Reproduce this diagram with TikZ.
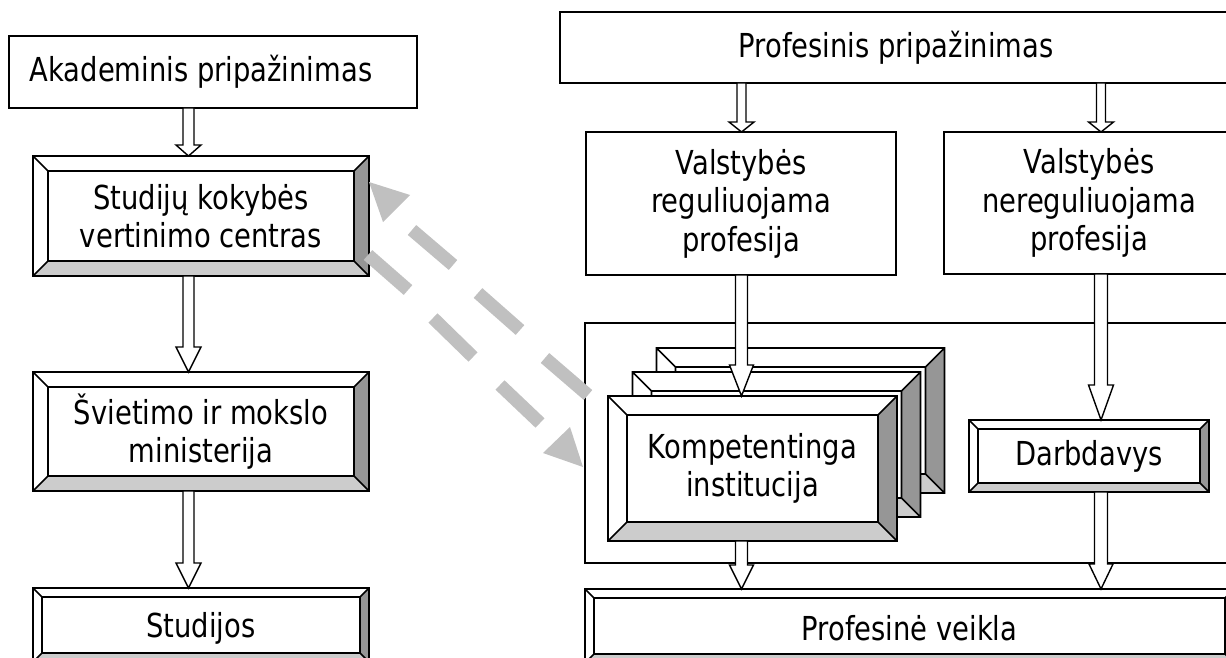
\documentclass[tikz,border=0pt]{standalone}
\usepackage{fontspec}
\setmainfont{DejaVu Sans}[FakeStretch=0.83]
\usetikzlibrary{calc}
\definecolor{dgray}{RGB}{150,150,150}
\definecolor{lgray}{RGB}{204,204,204}
\definecolor{agray}{RGB}{192,192,192}
\newcommand{\mainf}{\fontsize{33}{38.5}\selectfont}
\tikzset{
  plain/.style={draw=black, line width=1.6pt, fill=white, inner sep=0pt, outer sep=0pt, align=center, font=\mainf},
  txt/.style={inner sep=0pt, font=\mainf},
  blk/.style={draw=black, line width=1.4pt, fill=white, line join=miter},
  dsh/.style={draw=agray, line width=13pt},
  ahead/.style={fill=agray},
}
\newcommand{\bevel}[2]{%
  \coordinate (bNW) at (#1.north west); \coordinate (bNE) at (#1.north east);
  \coordinate (bSE) at (#1.south east); \coordinate (bSW) at (#1.south west);
  \coordinate (bnw) at ($(bNW)+(#2,#2)$); \coordinate (bne) at ($(bNE)+(-#2,#2)$);
  \coordinate (bse) at ($(bSE)+(-#2,-#2)$); \coordinate (bsw) at ($(bSW)+(#2,-#2)$);
  \fill[dgray] (bNE)--(bSE)--(bse)--(bne)--cycle;
  \fill[lgray] (bSW)--(bSE)--(bse)--(bsw)--cycle;
  \draw[line width=1.6pt, line join=miter] (bNW) rectangle (bSE) (bnw) rectangle (bse)
    (bNW)--(bnw) (bNE)--(bne) (bSE)--(bse) (bSW)--(bsw);
}
% tail, tip, head length, shaft half width, head half width
\newcommand{\blockarrow}[5]{%
  \path #1 coordinate (bt) #2 coordinate (bh);
  \draw[blk] ($(bt)+(-#4,0)$) -- ($(bh)+(-#4,-#3)$) -- ($(bh)+(-#5,-#3)$) -- (bh)
    -- ($(bh)+(#5,-#3)$) -- ($(bh)+(#4,-#3)$) -- ($(bt)+(#4,0)$) -- cycle;
}
\begin{document}
\begin{tikzpicture}[x=1pt,y=-1pt]
\useasboundingbox (0,0) rectangle (1226,658);
\clip (0,0) rectangle (1226,658);
\fill[white] (0,0) rectangle (1226,658);
\coordinate (cL) at (188.5,0);
\coordinate (cR1) at (741.5,0);
\coordinate (cR2) at (1101,0);

% left column
\node[plain, minimum width=408pt, minimum height=72pt] (akad) at (213,72) {};
\node[txt] (akadt) at (201,72) {Akademinis pripažinimas};
\node[plain, minimum width=336pt, minimum height=120pt] (studij) at (201,216) {Studijų kokybės\\vertinimo centras};
\bevel{studij}{15}
\node[plain, minimum width=336pt, minimum height=119pt] (sviet) at (201,431.5) {Švietimo ir mokslo\\ministerija};
\bevel{sviet}{15}
\node[plain, minimum width=336pt, minimum height=74pt] (studijos) at (201,625) {};
\bevel{studijos}{9}
\node[txt] (studijost) at (201,628) {Studijos};

% right column
\node[plain, minimum width=672pt, minimum height=71pt] (prof) at (896,47.5) {Profesinis pripažinimas};
\node[plain, minimum width=310pt, minimum height=143pt] (vreg) at (741,203.5) {Valstybės\\reguliuojama\\profesija};
\node[plain, minimum width=290pt, minimum height=142pt] (vner) at (1089,203) {Valstybės\\nereguliuojama\\profesija};
\node[plain, minimum width=660pt, minimum height=240pt] (cont) at (915,443) {};
\node[plain, minimum width=288pt, minimum height=145pt] (kback) at (800.5,420.5) {};
\bevel{kback}{19}
\node[plain, minimum width=288pt, minimum height=145pt] (kmid) at (776.5,444.5) {};
\bevel{kmid}{19}
\node[plain, minimum width=289pt, minimum height=145pt] (komp) at (752.5,468.5) {Kompetentinga\\institucija};
\bevel{komp}{19}
\node[plain, minimum width=240pt, minimum height=72pt] (darb) at (1089,456) {Darbdavys};
\bevel{darb}{9}
\node[plain, minimum width=649pt, minimum height=74pt] (pveik) at (909.5,626) {};
\bevel{pveik}{9}
\node[txt] (pveikt) at (909.5,628) {Profesinė veikla};

% block arrows
\blockarrow{(akad.south -| cL)}{(studij.north -| cL)}{11}{5.5}{12.5}
\blockarrow{(studij.south -| cL)}{(sviet.north -| cL)}{25}{5.5}{12.5}
\blockarrow{(sviet.south -| cL)}{(studijos.north -| cL)}{25}{5.5}{12.5}
\blockarrow{(prof.south -| cR1)}{(vreg.north -| cR1)}{10}{4.5}{12.5}
\blockarrow{(prof.south -| cR2)}{(vner.north -| cR2)}{10}{4.5}{12.5}
\blockarrow{(vreg.south -| cR1)}{(komp.north -| cR1)}{31}{6}{12}
\blockarrow{(vner.south -| cR2)}{(darb.north -| cR2)}{35}{6.5}{12.5}
\blockarrow{(komp.south -| cR1)}{(pveik.north -| cR1)}{24}{6}{12}
\blockarrow{(darb.south -| cR2)}{(pveik.north -| cR2)}{25}{6.5}{12}

% grey dashed double arrow
\draw[dsh] (412,230)--(453,265);
\draw[dsh] (478,293)--(520,330);
\draw[dsh] (545,358)--(588,395);
\draw[dsh] (368,255)--(408,290);
\draw[dsh] (433,318)--(473,357);
\draw[dsh] (500,385)--(540,423);
\fill[ahead] (369,182)--(410,195)--(383,222)--cycle;
\fill[ahead] (583,467)--(570,427)--(543,453)--cycle;
\end{tikzpicture}
\end{document}
